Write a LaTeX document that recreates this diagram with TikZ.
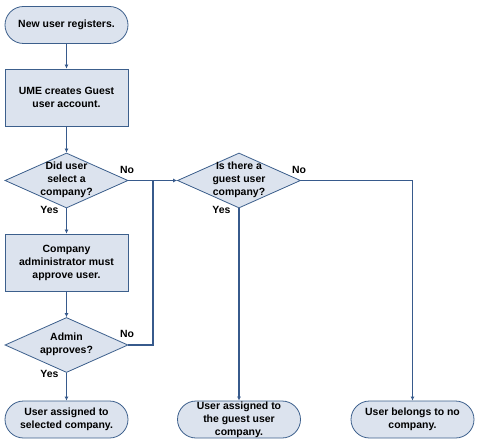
\documentclass[tikz,border=0pt]{standalone}
\usepackage{fontspec}
\setmainfont{Liberation Sans}
\usetikzlibrary{shapes.geometric,arrows.meta}
\definecolor{boxfill}{RGB}{220,227,238}
\definecolor{boxline}{RGB}{60,95,140}
\definecolor{arrowcol}{RGB}{55,90,140}
\tikzset{
  every node/.style={font=\fontsize{10.5}{13}\selectfont\bfseries, text=black},
  term/.style={draw=boxline, fill=boxfill, line width=0.8bp, rectangle, rounded corners=18.5bp,
    minimum width=123bp, minimum height=37bp, inner sep=0pt, align=center},
  proc/.style={draw=boxline, fill=boxfill, line width=0.8bp, rectangle,
    minimum width=123bp, minimum height=57bp, inner sep=0pt, align=center},
  decision/.style={draw=boxline, fill=boxfill, line width=0.8bp, diamond, inner sep=0pt,
    minimum width=123bp, minimum height=55bp},
  dtext/.style={align=center, inner sep=0pt},
  lbl/.style={inner sep=0pt},
  conn/.style={draw=arrowcol, line width=1.4bp},
  arr/.style={conn, -{Latex[length=4bp,width=4bp]}}
}
\begin{document}
\begin{tikzpicture}[x=1bp,y=-1bp]
\useasboundingbox (0,0) rectangle (487,448);
\node[term] (t0) at (66.5,25) {New user registers.};
\node[proc] (p1) at (66.5,97.5) {UME creates Guest\\user account.};
\node[decision] (d1) at (66.5,180.5) {};
\node[dtext] (d1t) at (66.5,180) {Did user\\select a\\company?};
\node[proc] (p2) at (66.5,262.5) {Company\\administrator must\\approve user.};
\node[decision] (d3) at (66.5,345) {};
\node[dtext] (d3t) at (66.5,344) {Admin\\approves?};
\node[term] (t1) at (66.5,419.5) {User assigned to\\selected company.};
\node[decision] (d2) at (239,180.5) {};
\node[dtext] (d2t) at (239,180) {Is there a\\guest user\\company?};
\node[term] (t2) at (239,419.5) {User assigned to\\the guest user\\company.};
\node[term] (t3) at (412.5,419.5) {User belongs to no\\company.};
\coordinate (j) at (153,180.5);
\node[lbl] (n1) at (127,170) {No};
\node[lbl] (y1) at (49.5,210) {Yes};
\node[lbl] (n3) at (127,333.5) {No};
\node[lbl] (y3) at (49.5,373.5) {Yes};
\node[lbl] (n2) at (299,169.5) {No};
\node[lbl] (y2) at (221.5,209.5) {Yes};
\draw[arr] (t0) -- (p1);
\draw[arr] (p1) -- (d1.north);
\draw[arr] (d1.south) -- (p2);
\draw[arr] (p2) -- (d3.north);
\draw[arr] (d3.south) -- (t1);
\draw[arr] (d1.east) -- (d2.west);
\draw[conn] (d3.east) -| (j);
\draw[arr] (d2.south) -- (t2);
\draw[arr] (d2.east) -| (t3.north);
\end{tikzpicture}
\end{document}
